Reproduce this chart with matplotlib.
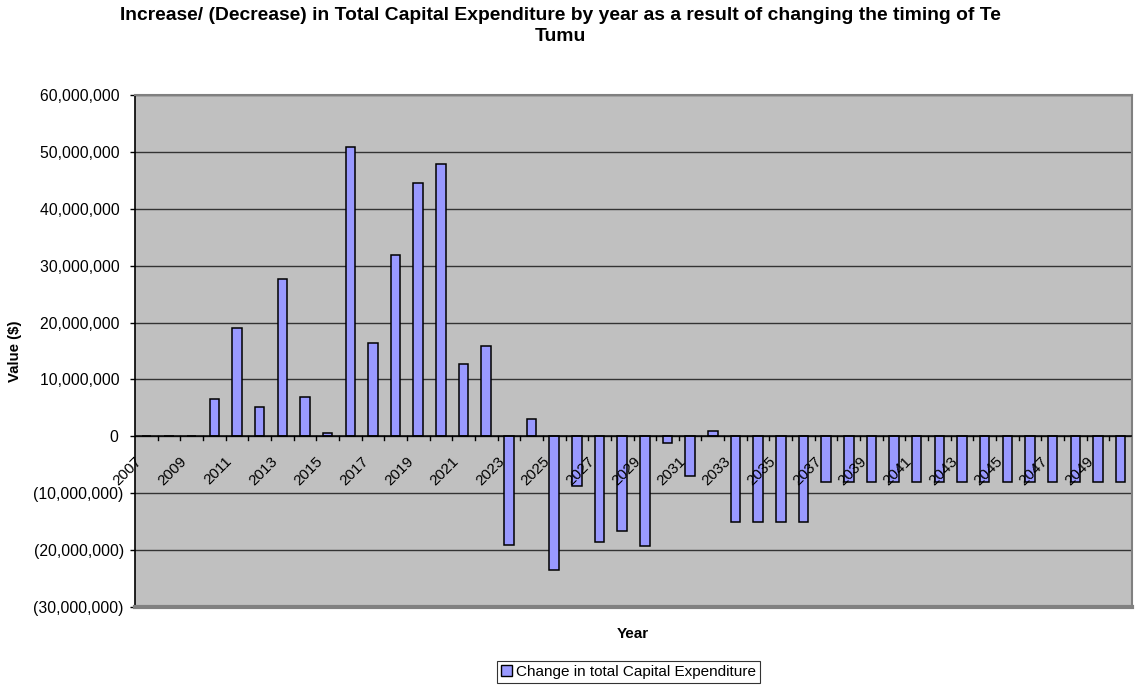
import matplotlib
matplotlib.use("Agg")
import matplotlib.pyplot as plt
from matplotlib.patches import Patch
from matplotlib.ticker import FuncFormatter, MultipleLocator
import numpy as np

plt.rcParams['font.family'] = ['Liberation Sans', 'DejaVu Sans']

years = list(range(2007, 2051))
change_capex = [
    0, 0, 0, 6.5e6, 19.0e6, 5.2e6, 27.7e6, 6.9e6, 0.6e6, 50.8e6,
    16.4e6, 31.8e6, 44.5e6, 47.9e6, 12.8e6, 15.8e6, -19.1e6, 3.1e6, -23.5e6, -8.8e6,
    -18.5e6, -16.7e6, -19.2e6, -1.1e6, -7.0e6, 0.9e6, -15.0e6, -15.0e6, -15.0e6, -15.0e6,
    -8.1e6, -8.1e6, -8.1e6, -8.1e6, -8.1e6, -8.1e6, -8.1e6, -8.1e6, -8.1e6, -8.1e6,
    -8.1e6, -8.1e6, -8.1e6, -8.1e6,
]
series_name = "Change in total Capital Expenditure"
title = ("Increase/ (Decrease) in Total Capital Expenditure by year as a result of changing the timing of Te\n"
         "Tumu")
y_min, y_max, y_step = -30e6, 60e6, 10e6

W, H = 1135, 685
fig = plt.figure(figsize=(W / 100, H / 100), dpi=100)
fig.patch.set_facecolor('white')

ax = fig.add_axes([135 / W, 1 - 607 / H, (1132 - 135) / W, (607 - 95) / H])
ax.set_facecolor('#C0C0C0')

x = np.arange(len(years))
ax.bar(x, change_capex, width=0.42, color='#9999FF', edgecolor='black',
       linewidth=1.1, zorder=3)

ax.set_xlim(-0.5, len(years) - 0.5)
ax.set_ylim(y_min, y_max)

# horizontal gridlines
ax.yaxis.set_major_locator(MultipleLocator(y_step))
ax.grid(axis='y', color='#333333', linewidth=1.0, zorder=1)


def money(v, pos):
    if abs(v) < 1:
        return "0 "
    s = f"{abs(v):,.0f}"
    return f"({s})" if v < 0 else s + " "


ax.yaxis.set_major_formatter(FuncFormatter(money))
ax.tick_params(axis='y', direction='out', length=3.8, width=1, color='black',
               labelsize=11.3, pad=4.3)

# plot-area frame
for side in ('top', 'right'):
    ax.spines[side].set_color('#808080')
    ax.spines[side].set_linewidth(1.5)
ax.spines['bottom'].set_visible(False)
ax.spines['left'].set_color('black')
ax.spines['left'].set_linewidth(1.2)
ax.axhline(y_min, color='#808080', linewidth=3, zorder=5, clip_on=False)

# category axis sits on the zero line
ax.axhline(0, color='black', linewidth=1.1, zorder=4)
ax.set_xticks([])
dy = (y_max - y_min) / (607 - 95)
for b in np.arange(0.5, len(years) - 0.5, 1.0):
    ax.plot([b, b], [0, -4 * dy], color='black', linewidth=1, zorder=4, clip_on=False)
for xi, yr in zip(x[::2], years[::2]):
    ax.text(xi - 0.52, -18 * dy, str(yr), rotation=45, ha='right', va='top',
            rotation_mode='anchor', fontsize=11, zorder=6)

fig.text(15 / W, 1 - 351 / H, "Value ($)", rotation=90, ha='center', va='center',
         fontsize=10.8, fontweight='bold')
fig.text(0.494, 1 - 26 / H, title, ha='center', va='center', fontsize=13.9,
         fontweight='bold', linespacing=1.25)
fig.text(633 / W, 1 - 634 / H, "Year", ha='center', va='center', fontsize=11,
         fontweight='bold')

leg = fig.legend(handles=[Patch(facecolor='#9999FF', edgecolor='black', linewidth=1)],
                 labels=[series_name], loc='center',
                 bbox_to_anchor=(628.5 / W, 1 - 672 / H), frameon=True, fancybox=False,
                 fontsize=11, handlelength=0.7, handleheight=0.7, handletextpad=0.3,
                 borderpad=0.25, borderaxespad=0)
leg.get_frame().set_edgecolor('black')
leg.get_frame().set_linewidth(0.8)

fig.savefig("out.png", dpi=100, facecolor='white')
